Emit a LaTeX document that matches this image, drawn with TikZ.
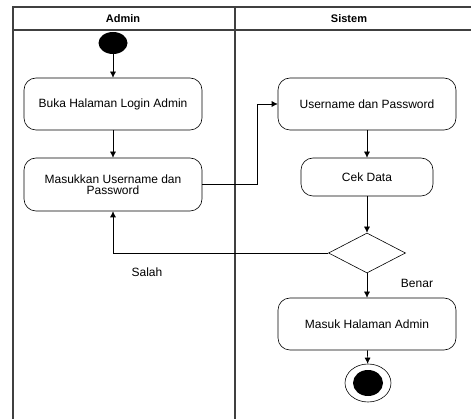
\documentclass[tikz,border=0pt]{standalone}
\usepackage{fontspec}
\setmainfont{Liberation Sans}
\usetikzlibrary{arrows.meta,positioning,shapes.geometric}

\begin{document}
\begin{tikzpicture}[x=1pt,y=-1pt]
\tikzstyle{myarrows}=[-{Latex[length=6pt,width=6pt]},line width=0.6pt];
\tikzstyle{act}=[rectangle,rounded corners=12pt,draw,line width=0.6pt,minimum width=178pt,minimum height=52pt,inner sep=2pt,align=center,font=\fontsize{12}{11}\selectfont];
\tikzstyle{lane}=[line width=1.3pt,draw=black!75];
\tikzstyle{lbl}=[font=\fontsize{12}{11}\selectfont];
\useasboundingbox (0,0) rectangle (471,419);
% swimlanes
\draw[lane] (13,419) -- (13,7) -- (471,7);
\draw[lane] (13,30) -- (471,30);
\draw[lane] (235,7) -- (235,419);
\node[font=\fontsize{11}{13}\selectfont\bfseries] (h1) at (123,19) {Admin};
\node[font=\fontsize{11}{13}\selectfont\bfseries] (h2) at (349,19) {Sistem};
% admin
\node[ellipse,fill=black,minimum width=29pt,minimum height=22pt,inner sep=0pt] (start) at (113,43) {};
\node[act] (x1) at (113,104) {Buka Halaman Login Admin};
\node[act,minimum height=53pt] (x2) at (113,184.5) {Masukkan Username dan\\Password};
% sistem
\node[act] (x3) at (367,104) {Username dan Password};
\node[act,minimum width=132pt,minimum height=38pt] (x4) at (367,177) {Cek Data};
\node[diamond,draw,line width=0.6pt,shape aspect=1.9,minimum width=77pt,minimum height=40pt,inner sep=0pt] (d1) at (367,253) {};
\node[act] (x5) at (367,324) {Masuk Halaman Admin};
\node[ellipse,draw,line width=0.6pt,minimum width=46pt,minimum height=38pt,inner sep=0pt] (stop) at (368,383) {};
\node[ellipse,fill=black,minimum width=30pt,minimum height=26pt,inner sep=0pt] (stopin) at (368,383) {};
% labels
\node[lbl] (l1) at (147,272) {Salah};
\node[lbl] (l2) at (417,283) {Benar};
% flows
\draw [myarrows] (start) -- (x1);
\draw [myarrows] (x1) -- (x2);
\draw [myarrows] (x2.east) -- ++(54.5,0) |- (x3.west);
\draw [myarrows] (x3) -- (x4);
\draw [myarrows] (x4) -- (d1);
\draw [myarrows] (d1.west) -| (x2.south);
\draw [myarrows] (d1) -- (x5);
\draw [myarrows] (x5) -- (stop);
\end{tikzpicture}
\end{document}
